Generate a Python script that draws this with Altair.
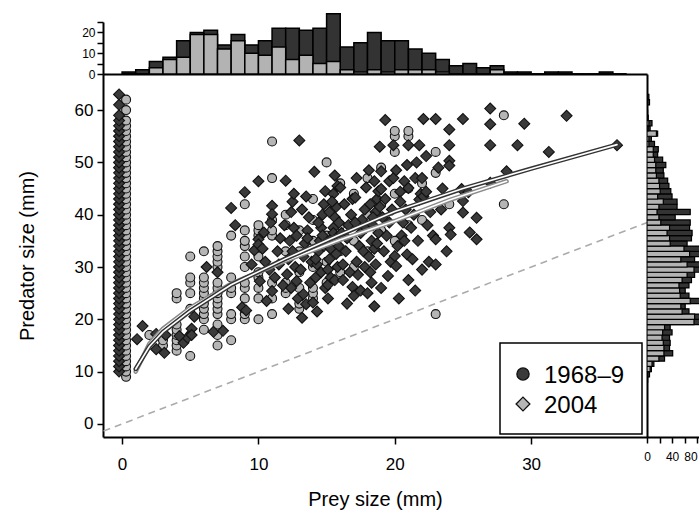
import altair as alt
import pandas as pd

FONT = "Liberation Sans"
DARK = "#3a3a3a"
LIGHT = "#b5b5b5"

# ---------------- data ----------------
# Top histogram: prey size, 1-mm bins (bin start), counts
top_bins = [0, 1, 2, 3, 4, 5, 6, 7, 8, 9, 10, 11, 12, 13, 14, 15, 16, 17, 18,
            19, 20, 21, 22, 23, 24, 25, 26, 27, 28, 29, 30, 31, 32, 33, 34, 35, 36]
top_all = [1, 2, 6, 8, 16, 20, 21, 14, 19, 14, 16, 22, 22, 21, 22, 29, 13, 15, 20,
           16, 16, 12, 10, 7, 4, 5, 3, 4, 1, 1, 0, 1, 1, 0, 0, 1, 0]
top_light = [0, 0, 3, 7, 8, 19, 19, 12, 16, 10, 9, 13, 7, 9, 5, 6, 2, 1, 2,
             1, 2, 2, 2, 1, 0, 0, 0, 2, 0, 0, 0, 0, 0, 0, 0, 0, 0]

# Right histogram: predator size, 1-mm bins (bin start), counts
right_bins = [8, 9, 10, 11, 12, 13, 14, 15, 16, 17, 18, 19, 20, 21, 22, 23, 24, 25,
              26, 27, 28, 29, 30, 31, 32, 33, 34, 35, 36, 37, 38, 39, 40, 41, 42, 43,
              44, 45, 46, 47, 48, 49, 50, 51, 52, 53, 54, 55, 56, 57, 58, 59, 60, 61, 62]
right_all = [1, 4, 7, 11, 28, 41, 36, 37, 36, 40, 37, 86, 88, 67, 61, 86, 67, 61,
             67, 71, 76, 86, 84, 76, 90, 88, 64, 71, 72, 68, 69, 45, 69, 48, 48, 40,
             38, 35, 33, 27, 26, 30, 25, 17, 18, 12, 7, 17, 5, 8, 2, 1, 0, 4, 3]
right_light = [0, 1, 5, 8, 19, 27, 27, 26, 24, 25, 28, 75, 76, 56, 54, 69, 53, 52,
               51, 56, 64, 75, 64, 54, 68, 59, 37, 36, 32, 36, 22, 19, 16, 19, 26, 17,
               21, 20, 19, 15, 14, 14, 12, 10, 10, 3, 3, 15, 2, 3, 0, 0, 0, 1, 1]

# Predators with empty stomachs (prey size 0): predator sizes
col_dark_pred = [10, 11, 12, 13, 14, 15, 16, 17, 18, 19, 20, 21, 22, 23, 24, 25, 26,
                 27, 28, 29, 30, 31, 32, 33, 34, 35, 36, 37, 38, 39, 40, 41, 42, 43,
                 44, 45, 46, 47, 48, 49, 50, 51, 52, 53, 54, 55, 56, 57, 58, 59, 61, 63]
col_light_pred = [9, 10, 11, 12, 13, 14, 15, 16, 17, 18, 19, 20, 21, 22, 23, 24, 25,
                  26, 27, 28, 29, 30, 31, 32, 33, 34, 35, 36, 37, 38, 39, 40, 41, 42,
                  43, 44, 45, 46, 47, 48, 49, 50, 51, 52, 53, 54, 55, 56, 57, 58, 60, 62]

# Scatter: dark diamonds (prey, predator)
dark_pts = [
    (1.1, 16.2), (1.5, 18.7), (2.5, 17.2), (2.5, 14.3), (3.2, 17.0), (3.1, 13.6),
    (4.5, 15.5), (4.8, 16.5), (4.2, 16.8), (5.1, 18.2), (5.1, 17.0), (5.3, 20.5),
    (6.7, 17.6), (7.4, 17.8), (6.2, 30.0), (7.0, 29.0), (8.0, 41.3), (8.3, 38.0),
    (8.8, 22.3), (9.1, 21.7), (9.0, 44.3), (9.5, 30.5), (9.7, 33.2), (10.0, 46.4),
    (10.0, 35.3), (10.0, 34.3), (10.1, 27.3), (10.4, 36.6), (10.5, 31.0), (10.6, 23.5),
    (10.8, 29.5), (10.3, 33.5), (10.9, 38.5),
    (11.0, 41.7), (11.0, 40.1), (11.0, 25.4), (11.2, 28.0), (11.4, 33.0), (11.5, 30.5),
    (11.6, 35.5), (11.8, 26.5), (11.9, 38.0),
    (12.1, 28.6), (12.8, 27.3), (12.0, 46.5), (12.2, 31.5), (12.3, 35.0), (12.4, 40.5),
    (12.5, 33.0), (12.6, 37.5), (12.7, 30.0), (12.9, 24.0), (12.5, 42.5), (12.2, 22.0),
    (12.8, 36.0), (12.4, 26.0), (12.6, 44.0),
    (13.3, 24.8), (13.2, 20.3), (13.5, 22.9), (13.0, 54.2), (13.1, 29.5), (13.3, 32.0),
    (13.4, 34.5), (13.6, 37.0), (13.7, 39.5), (13.8, 27.0), (13.9, 31.0), (13.2, 41.0),
    (13.5, 43.5), (13.6, 35.5),
    (14.0, 23.2), (14.1, 48.2), (14.2, 28.0), (14.3, 30.5), (14.4, 33.0), (14.5, 35.0),
    (14.6, 37.5), (14.7, 40.0), (14.8, 42.0), (14.9, 26.0), (14.2, 31.5), (14.4, 38.5),
    (14.6, 29.0), (14.8, 34.0), (14.9, 44.5), (14.3, 21.5), (14.7, 36.0),
    (15.1, 26.6), (15.5, 44.0), (15.1, 29.5), (15.2, 31.5), (15.3, 33.5), (15.4, 35.5),
    (15.5, 37.5), (15.6, 39.5), (15.7, 41.5), (15.8, 30.0), (15.9, 34.0), (15.3, 28.0),
    (15.5, 36.5), (15.7, 32.5), (15.9, 38.5), (15.2, 40.5), (15.4, 42.5), (15.6, 27.5),
    (15.8, 45.5), (15.1, 24.0), (15.9, 36.0), (15.6, 47.5),
    (16.0, 45.2), (16.9, 26.2), (16.2, 30.5), (16.4, 33.0), (16.5, 35.5), (16.6, 38.0),
    (16.8, 40.0), (16.3, 42.0), (16.7, 29.0), (16.1, 36.5), (16.9, 43.0),
    (16.2, 27.5), (16.5, 23.0),
    (17.1, 43.3), (17.9, 45.2), (17.2, 31.0), (17.4, 34.0), (17.5, 36.5), (17.6, 39.0),
    (17.8, 41.0), (17.3, 28.5), (17.7, 33.0), (17.9, 37.5), (17.2, 47.0), (17.5, 25.5),
    (17.8, 30.0), (17.1, 38.5), (17.0, 24.5),
    (18.5, 46.4), (18.9, 53.0), (18.1, 32.0), (18.3, 35.0), (18.4, 38.0), (18.6, 40.5),
    (18.7, 43.0), (18.2, 29.0), (18.8, 36.5), (18.5, 33.5), (18.9, 41.5), (18.1, 48.5),
    (18.3, 27.0), (18.6, 30.5), (18.8, 44.5), (18.4, 39.5), (18.7, 34.5), (18.2, 42.0),
    (18.0, 25.0), (18.5, 22.5),
    (19.3, 58.1), (19.0, 48.3), (19.6, 46.4), (19.0, 44.9), (19.5, 28.3), (19.9, 53.3),
    (19.9, 47.0), (19.2, 33.0), (19.4, 36.0), (19.6, 38.5), (19.8, 41.0), (19.3, 43.0),
    (19.7, 31.0), (19.1, 39.5), (19.0, 26.0),
    (20.4, 44.4), (20.7, 46.4), (20.9, 32.4), (20.0, 32.1), (20.1, 30.2), (20.3, 24.0),
    (20.1, 48.5), (20.5, 36.0), (20.6, 38.5), (20.8, 41.0), (20.2, 34.0), (20.9, 49.5),
    (20.4, 42.5), (20.7, 35.0),
    (21.0, 45.1), (21.0, 53.3), (21.8, 53.3), (21.8, 42.9), (21.7, 35.0), (21.2, 37.5),
    (21.4, 40.0), (21.5, 47.0), (21.6, 50.0), (21.3, 31.5), (21.9, 44.0), (21.0, 27.5),
    (21.5, 25.5),
    (22.1, 58.3), (22.0, 47.0), (22.1, 43.5), (22.3, 44.4), (22.3, 51.2), (22.4, 38.0),
    (22.6, 40.5), (22.8, 36.0), (22.0, 29.5), (22.5, 31.0),
    (23.0, 58.3), (23.0, 35.3), (23.4, 41.0), (23.2, 49.0), (23.5, 45.0), (23.8, 33.0),
    (23.0, 30.5),
    (24.0, 56.3), (24.0, 53.3), (24.0, 50.3), (24.0, 49.4), (24.0, 37.5), (24.1, 36.2),
    (24.9, 44.9),
    (25.0, 58.3), (25.0, 42.6), (25.0, 40.4), (25.4, 44.3), (25.5, 36.6),
    (26.0, 39.4), (26.0, 35.3),
    (27.0, 60.3), (27.0, 57.3), (27.0, 53.3), (27.0, 46.1),
    (28.2, 48.3), (29.0, 53.3), (29.5, 57.4), (31.3, 52.0), (32.6, 58.9), (36.3, 53.3),
]

# Scatter: light circles (prey, predator)
light_pts = [
    (2, 17), (3, 15), (3, 16),
    (4, 14), (4, 15), (4, 16), (4, 17), (4, 18), (4, 19), (4, 24), (4, 25),
    (5, 13), (5, 17), (5, 22), (5, 25), (5, 27), (5, 28), (5, 32),
    (6, 18), (6, 20), (6, 21), (6, 22), (6, 23), (6, 24), (6, 25), (6, 26), (6, 27),
    (6, 28), (6, 33),
    (7, 15), (7, 17), (7, 19), (7, 21), (7, 22), (7, 23), (7, 24), (7, 25), (7, 26),
    (7, 27), (7, 30), (7, 31), (7, 32), (7, 33), (7, 34),
    (8, 16), (8, 20), (8, 21), (8, 25), (8, 26), (8, 28), (8, 36),
    (9, 20), (9, 21), (9, 24), (9, 26), (9, 27), (9, 30), (9, 32), (9, 34), (9, 35),
    (9, 37), (9, 42),
    (10, 20), (10, 24), (10, 26), (10, 28), (10, 29), (10, 32), (10, 36), (10, 37), (10, 38),
    (11, 21), (11, 24), (11, 27), (11, 36), (11, 37), (11, 39), (11, 47), (11, 54),
    (12, 25), (12, 26), (12, 27), (12, 33), (12, 38), (12, 40),
    (13, 22), (13, 23), (13, 26), (13, 29), (13, 33), (13, 37),
    (14, 24), (14, 25), (14, 26), (14, 30), (14, 35), (14, 39), (14, 43),
    (15, 27), (15, 31), (15, 36), (15, 41), (15, 50),
    (16, 29), (16, 33), (16, 38), (16, 46),
    (17, 30), (17, 35), (17, 44),
    (18, 33), (18, 40), (18, 47),
    (19, 37), (19, 42), (19, 49),
    (20, 35), (20, 44), (20, 52), (20, 55), (20, 56),
    (21, 38), (21, 45), (21, 55), (21, 56),
    (22, 39), (22, 46),
    (23, 21), (23, 48), (23, 52),
    (24, 42), (28, 42), (28, 59),
]

# Fitted curves
fit_dark_prey = [1.0, 2, 3, 5, 8, 12, 16, 20, 25, 30, 36.3]
fit_dark_pred = [10.5, 14.8, 17.6, 21.6, 26.6, 31.6, 36.2, 40.6, 45.0, 48.8, 53.4]
fit_light_prey = [1.0, 2, 3, 5, 8, 12, 16, 20, 24, 28.2]
fit_light_pred = [10.0, 15.3, 18.2, 22.2, 26.8, 31.2, 35.2, 38.8, 42.8, 46.4]

# 1:1 reference line
ref_line = [-3, 45]

# Legend (as drawn in the figure)
legend_labels = ["1968\u20139", "2004"]
legend_shapes = ["circle", "diamond"]
legend_fills = [DARK, LIGHT]

# ---------------- frames ----------------
dark_df = pd.DataFrame(dark_pts, columns=["prey", "pred"])
light_df = pd.DataFrame(light_pts, columns=["prey", "pred"])
col_dark_df = pd.DataFrame({"prey": 0, "pred": col_dark_pred})
col_light_df = pd.DataFrame({"prey": 0, "pred": col_light_pred})
fit_dark_df = pd.DataFrame({"prey": fit_dark_prey, "pred": fit_dark_pred})
fit_light_df = pd.DataFrame({"prey": fit_light_prey, "pred": fit_light_pred})
ref_df = pd.DataFrame({"prey": ref_line, "pred": ref_line})
top_df = pd.DataFrame({"b0": top_bins, "all": top_all, "light": top_light})
right_df = pd.DataFrame({"b0": right_bins, "all": right_all, "light": right_light})

W, H = 544, 363
x_scale = alt.Scale(domain=[-1.4, 38.5], nice=False, zero=False)
y_scale = alt.Scale(domain=[-2.5, 66.9], nice=False, zero=False)

X = alt.X("prey:Q", scale=x_scale,
          axis=alt.Axis(values=[0, 10, 20, 30], title="Prey size (mm)", tickSize=7,
                        labelPadding=12, titlePadding=17, labelFontSize=17,
                        titleFontSize=20))
Y = alt.Y("pred:Q", scale=y_scale,
          axis=alt.Axis(values=[0, 10, 20, 30, 40, 50, 60], title="Predator size (mm)",
                        tickSize=6, labelPadding=4, titlePadding=37, labelFontSize=17,
                        titleFontSize=20))

ref = alt.Chart(ref_df).mark_line(clip=True, color="#ababab", strokeWidth=1.6,
                                  strokeDash=[7, 5]).encode(x=X, y=Y)

pt_light = dict(shape="circle", filled=True, fill=LIGHT, stroke="#111111",
                strokeWidth=1.1, opacity=1, size=80)
pt_dark = dict(shape="diamond", filled=True, fill=DARK, stroke="#111111",
               strokeWidth=1.1, opacity=1, size=120)

col_light = alt.Chart(col_light_df).mark_point(xOffset=4, **pt_light).encode(x=X, y=Y)
col_dark = alt.Chart(col_dark_df).mark_point(xOffset=-3, **pt_dark).encode(x=X, y=Y)
sc_light = alt.Chart(light_df).mark_point(**pt_light).encode(x=X, y=Y)
sc_dark = alt.Chart(dark_df).mark_point(**pt_dark).encode(x=X, y=Y)

fit_layers = []
for df, outline in [(fit_light_df, "#8a8a8a"), (fit_dark_df, "#333333")]:
    fit_layers.append(alt.Chart(df).mark_line(color=outline, strokeWidth=4.5,
                                              strokeCap="round").encode(x=X, y=Y))
    fit_layers.append(alt.Chart(df).mark_line(color="white", strokeWidth=1.6,
                                              strokeCap="round").encode(x=X, y=Y))

one = pd.DataFrame({"a": [0]})
legend_box = alt.Chart(one).mark_rect(fill="white", stroke="black", strokeWidth=1.5).encode(
    x=alt.value(397), x2=alt.value(539), y=alt.value(269), y2=alt.value(360))
legend_layers = [legend_box]
for i in range(2):
    ldf = pd.DataFrame({"label": [legend_labels[i]]})
    legend_layers.append(alt.Chart(ldf).mark_point(
        shape=legend_shapes[i], filled=True, fill=legend_fills[i], stroke="#111111",
        strokeWidth=1.3, opacity=1, size=150 if i == 0 else 190).encode(
        x=alt.value(420), y=alt.value(300 + 30 * i)))
    legend_layers.append(alt.Chart(ldf).mark_text(
        align="left", baseline="alphabetic", fontSize=24, font=FONT, color="black").encode(
        x=alt.value(441), y=alt.value(309 + 30 * i), text="label:N"))

main = alt.layer(ref, col_light, col_dark, sc_light, sc_dark, *fit_layers,
                 *legend_layers).properties(width=W, height=H)

# ---------------- top histogram ----------------
TX = alt.X("b0:Q", scale=x_scale,
           axis=alt.Axis(title=None, labels=False, ticks=False, domainWidth=2))
TY_scale = alt.Scale(domain=[0, 25], nice=False, zero=True)
TY_axis = alt.Axis(values=[0, 5, 10, 15, 20, 25], title=None, tickSize=6, labelPadding=2,
                   labelFontSize=12,
                   labelExpr="datum.value % 10 == 0 ? datum.label : ''")
top_base = alt.Chart(top_df).transform_calculate(b1="datum.b0 + 1")
top_d = top_base.mark_bar(fill="#333333", stroke="black", strokeWidth=1.5).encode(
    x=TX, x2="b1:Q", y=alt.Y("all:Q", scale=TY_scale, axis=TY_axis), y2=alt.datum(0))
top_l = top_base.mark_bar(fill="#b3b3b3", stroke="black", strokeWidth=1.5).encode(
    x=TX, x2="b1:Q", y=alt.Y("light:Q", scale=TY_scale, axis=TY_axis), y2=alt.datum(0))
top = alt.layer(top_d, top_l).properties(width=W, height=52)

# ---------------- right histogram ----------------
RY = alt.Y("b0:Q", scale=y_scale,
           axis=alt.Axis(title=None, labels=False, ticks=False, domainWidth=2))
RX_scale = alt.Scale(domain=[0, 83], nice=False, zero=True)
RX_axis = alt.Axis(values=[0, 20, 40, 60, 80], title=None, tickSize=6, labelPadding=8,
                   labelFontSize=12,
                   labelExpr="datum.value % 40 == 0 ? datum.label : ''",
                   labelAlign={"condition": {"test": "datum.value == 80", "value": "right"},
                               "value": "center"})
right_base = alt.Chart(right_df).transform_calculate(b1="datum.b0 + 1")
right_d = right_base.mark_bar(fill="#333333", stroke="black", strokeWidth=1.2,
                              clip=True).encode(
    y=RY, y2="b1:Q", x=alt.X("all:Q", scale=RX_scale, axis=RX_axis), x2=alt.datum(0))
right_l = right_base.mark_bar(fill="#b3b3b3", stroke="black", strokeWidth=1.2,
                              clip=True).encode(
    y=RY, y2="b1:Q", x=alt.X("light:Q", scale=RX_scale, axis=RX_axis), x2=alt.datum(0))
right = alt.layer(right_d, right_l).properties(width=52, height=H)

row = alt.hconcat(main, right, spacing=0, bounds="flush")
chart = alt.vconcat(top, row, spacing=0, bounds="flush").properties(
    padding={"left": 17, "top": 12, "right": 0, "bottom": 5},
    background="white",
).configure(font=FONT).configure_axis(
    grid=False, domainColor="black", tickColor="black", labelColor="black",
    titleColor="black", titleFontWeight="normal", domainWidth=2, tickWidth=1.5,
    labelFont=FONT, titleFont=FONT,
).configure_view(strokeWidth=0)

chart.save("out.html", embed_options={"renderer": "svg", "actions": False})
